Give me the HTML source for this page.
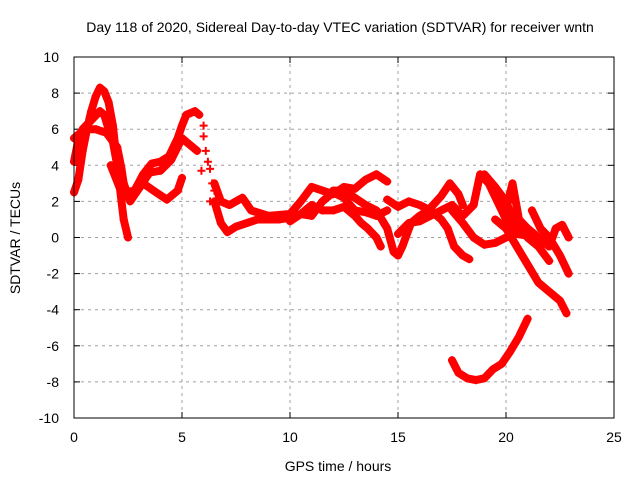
<!DOCTYPE html>
<html><head><meta charset="utf-8"><style>
body{margin:0;background:#fff}
svg{display:block;font-family:"Liberation Sans",sans-serif}
</style></head><body>
<svg id="c" width="640" height="480">
<text x="340" y="32" font-size="14" text-anchor="middle">Day 118 of 2020, Sidereal Day-to-day VTEC variation (SDTVAR) for receiver wntn</text>
<text x="338" y="471" font-size="14" text-anchor="middle">GPS time / hours</text>
<text transform="translate(20,238) rotate(-90)" font-size="14" text-anchor="middle">SDTVAR / TECUs</text>
<g id="grid"></g><g id="series"></g>
<rect x="74" y="57" width="540" height="361" fill="none" stroke="#000" stroke-width="1"/>
</svg>
<script>
const xTicks=[0,5,10,15,20,25];
const yTicks=[-10,-8,-6,-4,-2,0,2,4,6,8,10];
const s1=[[0,2.5],[0.2,3.2],[0.4,4.8],[0.6,6],[0.8,7],[1.0,7.8],[1.2,8.3],[1.4,8.1],[1.6,7.5],[1.8,6.2],[2.0,4],[2.1,3],[2.3,1],[2.5,0]];
const s2=[[0,4.2],[0.2,5.4],[0.4,6],[0.8,6.5],[1.2,7],[1.4,6.8],[1.6,6],[1.8,5.3],[2.0,4],[2.2,3],[2.4,2.5],[2.8,2.6],[3.2,3.5],[3.6,4.1],[4.0,4.2],[4.4,4.5],[4.8,5.5],[5.0,6.2],[5.2,6.8],[5.6,7],[5.8,6.8]];
const s3=[[0,5.5],[0.5,6],[1.0,6],[1.5,5.8],[2.0,5],[2.2,3.8],[2.3,3],[2.6,2],[3.0,2.7],[3.5,3.6],[4.0,3.7],[4.5,4.3],[5.0,5.5],[5.3,5.2],[5.7,4.8]];
const s4=[[1.7,4],[2.2,2.5],[2.6,2.2],[3.2,3],[3.8,2.5],[4.3,2.1],[4.8,2.6],[5.0,3.3]];
const s5=[[6.5,3],[6.8,2],[7.2,1.8],[7.8,2.2],[8.2,1.5],[9,1.2],[10,1.3],[10.5,2],[11,2.8],[11.5,2.6],[12,2.4],[12.5,2.8],[13,2.7],[13.5,3.2],[14,3.5],[14.5,3.1]];
const s6=[[6.5,2],[6.8,0.8],[7.1,0.3],[7.5,0.6],[8,0.8],[8.5,1],[9,1],[9.5,1],[10,1.1],[10.5,1.3],[11,1.2],[11.5,2],[12,2.5],[12.5,2.2],[13,1.5],[13.5,1.4],[14,1.2],[14.5,1.5]];
const s7=[[10,0.9],[10.5,1.3],[11,1.8],[11.5,1.5],[12,1.5],[12.5,1.7],[13,1.2],[13.3,0.8],[13.6,0.5],[14,0],[14.2,-0.5]];
const s8=[[12,2.6],[12.5,2.6],[13,2.2],[13.5,1.8],[14,1.5],[14.5,0.5],[14.8,-0.8],[15,-1],[15.2,-0.5],[15.6,0.8],[16,1.2],[16.4,1.5],[17,2.3],[17.4,3],[17.8,2.4],[18,1.8]];
const s9=[[14.5,2.1],[15,1.7],[15.5,2],[16,1.8],[16.5,1.5],[17,1],[17.3,0.5],[17.6,-0.5],[18,-1],[18.3,-1.2]];
const s10=[[15,0.2],[15.5,0.8],[16,0.9],[16.5,1.2],[17,1.5],[17.5,1.8],[18,1.2],[18.5,1.8],[18.8,3.5],[19.2,3],[19.6,2],[20,1],[20.3,0.3],[20.6,0.5],[21,0],[21.5,-0.5],[22,-1.3]];
const s11=[[17.5,1.5],[18,0.8],[18.5,0],[19,-0.4],[19.5,-0.3],[20,0],[20.5,0.2],[21,0.1],[21.5,-0.3]];
const s12=[[19.5,1],[20,0.5],[20.5,-0.5],[21,-1.5],[21.5,-2.5],[22,-3],[22.5,-3.5],[22.8,-4.2]];
const s13=[[19.5,2.5],[20,1.5],[20.3,3],[20.6,1],[21,0.5],[21.5,0],[22,-0.5],[22.3,0.5],[22.6,0.7],[22.9,0]];
const s14=[[21.2,1.5],[21.6,0.5],[22,0],[22.5,-1],[22.9,-2]];
const s15=[[19,3.5],[19.5,2.8],[20,2],[20.5,0.5]];
const s16=[[17.5,-6.8],[17.8,-7.5],[18.2,-7.8],[18.6,-7.9],[19,-7.8],[19.4,-7.3],[19.8,-7],[20.2,-6.3],[20.6,-5.5],[21,-4.5]];
const scatterX=[6.0,6.0,6.1,5.9,6.3,6.2,6.4,6.5,6.3];
const scatterY=[6.2,5.6,4.8,3.7,3.8,4.2,3.0,2.6,2.0];
const allSeries=[s1,s2,s3,s4,s5,s6,s7,s8,s9,s10,s11,s12,s13,s14,s15,s16];
const X0=74,X1=614,Y0=418,Y1=57;
const xs=v=>X0+(v-0)/25*(X1-X0);
const ys=v=>Y0-(v+10)/20*(Y0-Y1);
const NS="http://www.w3.org/2000/svg";
const grid=document.getElementById('grid'),ser=document.getElementById('series');
function mk(t,a,p){const e=document.createElementNS(NS,t);for(const k in a)e.setAttribute(k,a[k]);p.appendChild(e);return e;}
xTicks.forEach(t=>{
 const x=xs(t);
 if(t>0&&t<25){const l=mk('line',{x1:x,x2:x,y1:Y1,y2:Y0,stroke:'#a0a0a0','stroke-dasharray':'3,4'},grid);
 
 }
 mk('line',{x1:x,x2:x,y1:Y0,y2:Y0-6,stroke:'#000'},grid);
 mk('line',{x1:x,x2:x,y1:Y1,y2:Y1+6,stroke:'#000'},grid);
 const tx=mk('text',{x:x,y:Y0+24,'font-size':14,'text-anchor':'middle'},grid);tx.textContent=t;
 
 
});
yTicks.forEach(t=>{
 const y=ys(t);
 if(t>-10&&t<10){const l=mk('line',{x1:X0,x2:X1,y1:y,y2:y,stroke:'#a0a0a0','stroke-dasharray':'3,4'},grid);
 
 }
 mk('line',{x1:X0,x2:X0+6,y1:y,y2:y,stroke:'#000'},grid);
 mk('line',{x1:X1,x2:X1-6,y1:y,y2:y,stroke:'#000'},grid);
 const tx=mk('text',{x:X0-15,y:y+5,'font-size':14,'text-anchor':'end'},grid);tx.textContent=t;
 
 
});
allSeries.forEach((s,i)=>{
 const pl=mk('polyline',{points:s.map(p=>xs(p[0])+','+ys(p[1])).join(' '),fill:'none',stroke:'#ff0000','stroke-width':8,'stroke-linejoin':'round','stroke-linecap':'round'},ser);
 
 
 s.forEach(p=>{
  const x=xs(p[0]),y=ys(p[1]);
  const m=mk('path',{d:`M${x-4},${y}H${x+4}M${x},${y-4}V${y+4}`,stroke:'#ff0000','stroke-width':2},ser);
  
  
 });
});
scatterX.forEach((v,i)=>{
 const x=xs(v),y=ys(scatterY[i]);
 const m=mk('path',{d:`M${x-4},${y}H${x+4}M${x},${y-4}V${y+4}`,stroke:'#ff0000','stroke-width':2},ser);
 
 
});
</script>
</body></html>
